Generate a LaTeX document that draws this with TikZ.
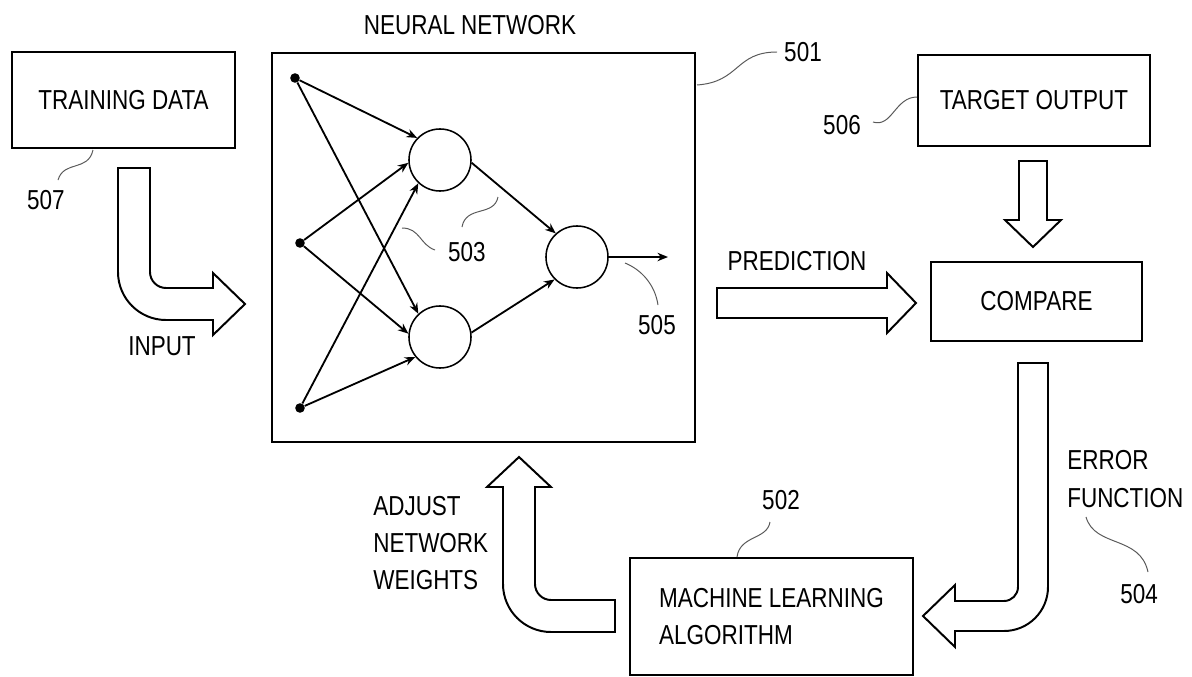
\documentclass[tikz,border=0pt]{standalone}
\usepackage{fontspec}
\setmainfont[FakeStretch=0.82]{Liberation Sans}
\usetikzlibrary{arrows.meta}

\begin{document}
\begin{tikzpicture}[
  x=0.025cm, y=-0.025cm,
  txt/.style={font=\fontsize{19.5}{26.5}\selectfont, inner sep=0pt},
  box/.style={draw, line width=1.4pt, txt},
  blockarrow/.style={draw, line width=1.4pt, fill=white, line join=miter},
  dot/.style={circle, fill, inner sep=0pt, minimum size=0.24cm},
  neuron/.style={circle, draw, line width=1.1pt, inner sep=0pt, minimum size=1.55cm},
  edge/.style={line width=1.3pt, -{Stealth[length=7.5pt, width=6pt]}},
  leader/.style={line width=0.7pt, black!65}
]
\useasboundingbox (0,0) rectangle (1192,677);

% ---- boxes ----
\node[box, minimum width=5.575cm, minimum height=2.4cm] (train) at (123.5,100) {TRAINING DATA};
\node[box, minimum width=10.575cm, minimum height=9.725cm] (nn) at (483.5,247.5) {};
\node[box, minimum width=5.8cm, minimum height=2.275cm] (target) at (1034,100.5) {TARGET OUTPUT};
\node[box, minimum width=5.275cm, minimum height=1.975cm] (compare) at (1036.5,301.5) {COMPARE};
\node[box, minimum width=7.075cm, minimum height=2.925cm, align=left] (ml) at (771.5,616.5) {MACHINE LEARNING\\ALGORITHM};

% ---- labels ----
\node[txt] (title) at (470,25) {NEURAL NETWORK};
\node[txt] (pred) at (797,261) {PREDICTION};
\node[txt] (input) at (162,346) {INPUT};
\node[txt, align=left, anchor=west] (adjust) at (373,543) {ADJUST\\NETWORK\\WEIGHTS};
\node[txt, align=left, anchor=west] (errf) at (1067,479) {ERROR\\FUNCTION};

\node[txt] (n501) at (803,52) {501};
\node[txt] (n502) at (781,500) {502};
\node[txt] (n503) at (467,252) {503};
\node[txt] (n504) at (1139,594) {504};
\node[txt] (n505) at (657,325) {505};
\node[txt] (n506) at (842,125) {506};
\node[txt] (n507) at (46,200) {507};

% ---- network inside the box ----
\node[dot] (i1) at (295,78) {};
\node[dot] (i2) at (300,243) {};
\node[dot] (i3) at (300,408) {};
\node[neuron] (h1) at (440,160) {};
\node[neuron] (h2) at (440,337) {};
\node[neuron] (o) at (577,257) {};
\coordinate (out) at (668,257);

\draw[edge] (i1) -- (h1.136);
\draw[edge] (i2) -- (h1.185);
\draw[edge] (i3) -- (h1.227);
\draw[edge] (i1) -- (h2.133);
\draw[edge] (i2) -- (h2.174);
\draw[edge] (i3) -- (h2.219);
\draw[edge] (h1.-5) -- (o.132);
\draw[edge] (h2.8) -- (o.225);
\draw[edge] (o) -- (out);

% ---- block arrows ----
% training data -> network (down, then right)
\draw[blockarrow] (118,168) -- (150,168) -- (150,272)
  .. controls (150,280.8) and (157.2,288) .. (166,288)
  -- (213,288) -- (213,273) -- (245,304) -- (213,335) -- (213,320) -- (166,320)
  .. controls (139.5,320) and (118,298.5) .. (118,272) -- cycle;
% network -> compare
\draw[blockarrow] (717,288) -- (887,288) -- (887,273) -- (916,303)
  -- (887,333) -- (887,318) -- (717,318) -- cycle;
% target output -> compare
\draw[blockarrow] (1019,161) -- (1047,161) -- (1047,220) -- (1061,220)
  -- (1033,247) -- (1005,220) -- (1019,220) -- cycle;
% compare -> learning algorithm (down, then left)
\draw[blockarrow] (1018,363) -- (1048,363) -- (1048,587)
  .. controls (1048,611.3) and (1028.3,631) .. (1004,631)
  -- (955,631) -- (955,647) -- (923,616) -- (955,585) -- (955,601) -- (1004,601)
  .. controls (1011.7,601) and (1018,594.7) .. (1018,587) -- cycle;
% learning algorithm -> network (left, then up)
\draw[blockarrow] (615,600) -- (551,600)
  .. controls (542.2,600) and (535,592.8) .. (535,584)
  -- (535,487) -- (551,487) -- (519,457) -- (487,487) -- (503,487) -- (503,584)
  .. controls (503,610.5) and (524.5,632) .. (551,632) -- (615,632) -- cycle;

% ---- reference leaders ----
\coordinate (l501a) at (697,85);   \coordinate (l501b) at (777,52);
\coordinate (l502a) at (737,557);  \coordinate (l502b) at (770,522);
\coordinate (l503a) at (435,250);  \coordinate (l503b) at (402,228);
\coordinate (l503c) at (462,227);  \coordinate (l503d) at (498,197);
\coordinate (l504a) at (1086,517); \coordinate (l504b) at (1148,572);
\coordinate (l505a) at (625,263);  \coordinate (l505b) at (658,305);
\coordinate (l506a) at (873,122);  \coordinate (l506b) at (917,97);
\coordinate (l507a) at (93,150);   \coordinate (l507b) at (58,180);

\draw[leader] (l501a) .. controls (740,82) and (735,52) .. (l501b);
\draw[leader] (l502a) .. controls (740,535) and (767,540) .. (l502b);
\draw[leader] (l503a) .. controls (420,245) and (420,228) .. (l503b);
\draw[leader] (l503c) .. controls (466,205) and (494,217) .. (l503d);
\draw[leader] (l504a) .. controls (1095,548) and (1140,535) .. (l504b);
\draw[leader] (l505a) .. controls (642,270) and (655,285) .. (l505b);
\draw[leader] (l506a) .. controls (892,128) and (895,97) .. (l506b);
\draw[leader] (l507a) .. controls (88,172) and (64,160) .. (l507b);
\end{tikzpicture}
\end{document}
